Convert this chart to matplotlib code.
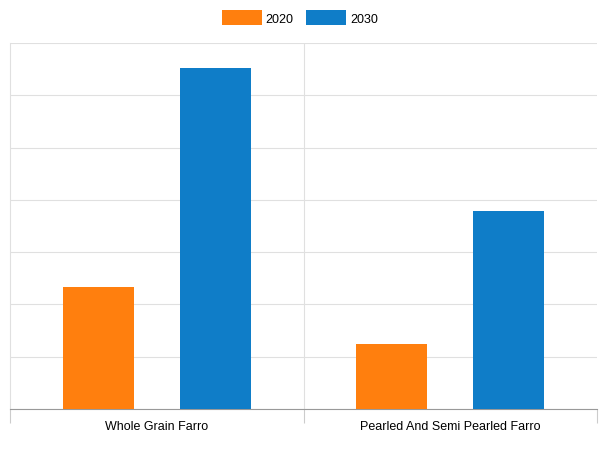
import matplotlib
matplotlib.use("Agg")
import matplotlib.pyplot as plt
import numpy as np

categories = ["Whole Grain Farro", "Pearled And Semi Pearled Farro"]
series_names = ["2020", "2030"]
values_2020 = [2.33, 1.24]
values_2030 = [6.52, 3.79]

plt.rcParams['font.family'] = ['Liberation Sans', 'DejaVu Sans']
fig = plt.figure(figsize=(6, 4.52), dpi=100)
ax = fig.add_axes([10/600, 42/452, 587/600, 366/452])
x = np.arange(len(categories)) + 0.5
w = 0.242
ax.bar(x - 0.2, values_2020, w, color="#ff7f0e", label=series_names[0], zorder=3)
ax.bar(x + 0.2, values_2030, w, color="#0f7dc8", label=series_names[1], zorder=3)
ax.set_xlim(0, 2)
ax.set_ylim(0, 7)
ax.set_yticks(np.arange(0, 8))
ax.set_yticklabels([])
ax.tick_params(axis='y', length=0)
ax.yaxis.grid(True, color="#e0e0e0", lw=0.8, zorder=0)
ax.set_xticks([0, 1, 2], minor=False)
ax.set_xticklabels([])
ax.set_xticks(x, minor=True)
ax.set_xticklabels(categories, minor=True, fontsize=9)
ax.tick_params(axis='x', which='minor', length=0, pad=8)
ax.tick_params(axis='x', which='major', length=10, color="#cccccc")
for v in [1]:
    ax.axvline(v, color="#e0e0e0", lw=0.8, zorder=0)
for s in ["top", "right"]:
    ax.spines[s].set_visible(False)
ax.spines["left"].set_color("#e0e0e0")
ax.spines["bottom"].set_color("#999999")
fig.legend(loc="upper center", bbox_to_anchor=(0.5, 1.0), ncol=2, frameon=False,
           fontsize=9, handlelength=3.2, handleheight=1.4, columnspacing=1.0, handletextpad=0.3)
fig.savefig("out.png", dpi=100)
